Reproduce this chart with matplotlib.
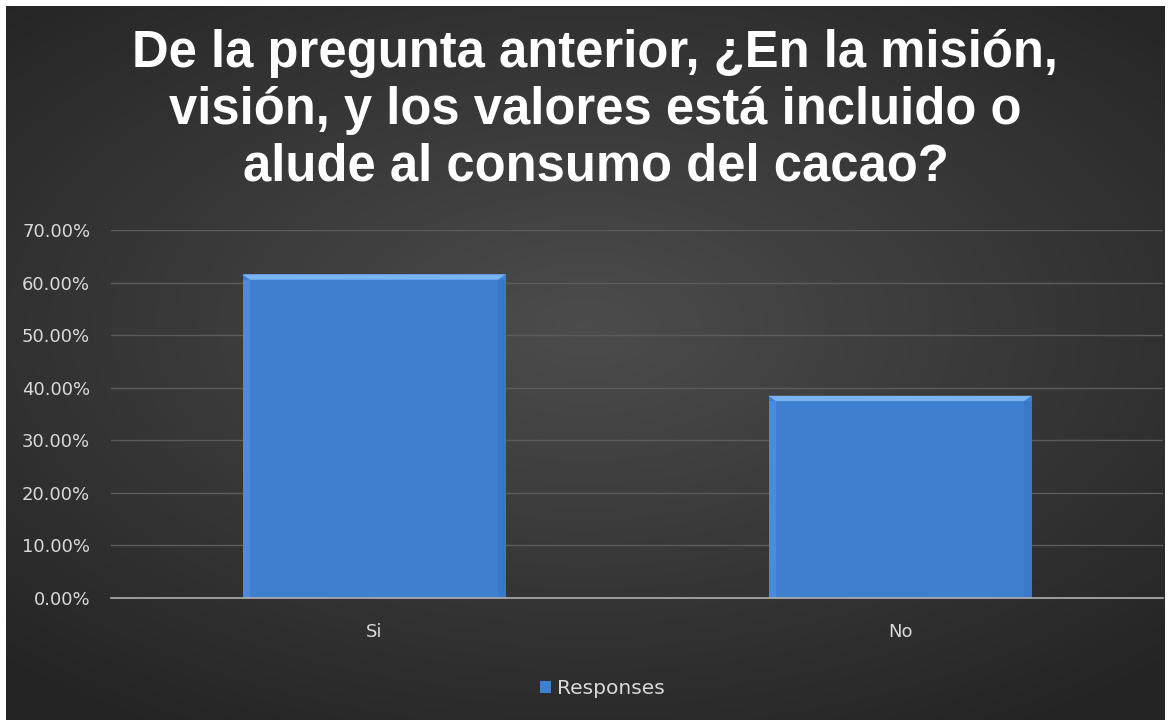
import matplotlib.pyplot as plt
import numpy as np
from matplotlib.ticker import FuncFormatter, MultipleLocator
from matplotlib.patches import Rectangle, Polygon

plt.rcParams['font.family'] = ['Liberation Sans', 'DejaVu Sans']

categories = ['Si', 'No']
responses = [61.54, 38.46]
title = 'De la pregunta anterior, ¿En la misión,\nvisión, y los valores está incluido o\nalude al consumo del cacao?'

fig = plt.figure(figsize=(11.72, 7.25), dpi=100)
fig.patch.set_facecolor('white')

# dark radial background inside a thin white frame
bg = fig.add_axes([6 / 1172, 5 / 725, 1159 / 1172, 714 / 725])
yy, xx = np.mgrid[-1:1:300j, -1:1:500j]
r = np.sqrt((xx * 0.9) ** 2 + ((yy + 0.1) * 1.0) ** 2)
shade = 0.30 - 0.12 * np.clip(r, 0, 1.3)
bg.imshow(np.dstack([shade] * 3), aspect='auto', extent=[0, 1, 0, 1])
bg.set_axis_off()

ax = fig.add_axes([111 / 1172, 127 / 725, 1052 / 1172, 368 / 725])
ax.patch.set_alpha(0)
x = np.arange(len(categories))
width = 0.5
bars = ax.bar(x, responses, width=width, color='#3f7fd0', zorder=3,
              label='Responses')

# bevel: lighter strip on top with slanted corners, lighter side edges
edge = 0.014
for xi, v in zip(x, responses):
    l, rgt = xi - width / 2, xi + width / 2
    ax.add_patch(Polygon([(l, v), (rgt, v), (rgt - edge, v - 1.0),
                          (l + edge, v - 1.0)],
                         closed=True, color='#7ab4f3', zorder=4, lw=0))
    ax.add_patch(Rectangle((l, 0), edge, v - 1.0,
                           color='#4a8be0', zorder=4, lw=0))
    ax.add_patch(Rectangle((rgt - edge, 0), edge, v - 1.0,
                           color='#3a78c8', zorder=4, lw=0))

ax.set_xlim(-0.5, 1.5)
ax.set_ylim(0, 70)
ax.yaxis.set_major_locator(MultipleLocator(10))
ax.yaxis.set_major_formatter(FuncFormatter(lambda v, p: f'{v:.2f}%'))
ax.grid(axis='y', color='#5c5c5c', lw=1, zorder=0)
ax.set_xticks(x, categories)
for s in ['top', 'right', 'left']:
    ax.spines[s].set_visible(False)
ax.spines['bottom'].set_color('#b0b0b0')
ax.spines['bottom'].set_linewidth(1.2)
ax.spines['bottom'].set_zorder(5)
ax.tick_params(length=0, colors='#d9d9d9', labelsize=13)
ax.tick_params(axis='y', pad=15)
ax.tick_params(axis='x', pad=18)
for lbl in ax.get_xticklabels() + ax.get_yticklabels():
    lbl.set_family('DejaVu Sans')

fig.suptitle(title, x=0.508, y=0.96, color='white', fontsize=36.5,
             fontweight='bold', linespacing=1.2)

leg = fig.legend(handles=[bars], labels=['Responses'], loc='center',
                 bbox_to_anchor=(0.514, 0.05), frameon=False,
                 prop={'family': 'DejaVu Sans', 'size': 14.5},
                 handlelength=0.5, handleheight=0.5, handletextpad=0.3)
for t in leg.get_texts():
    t.set_color('#d9d9d9')

fig.savefig('out.png', dpi=100)
